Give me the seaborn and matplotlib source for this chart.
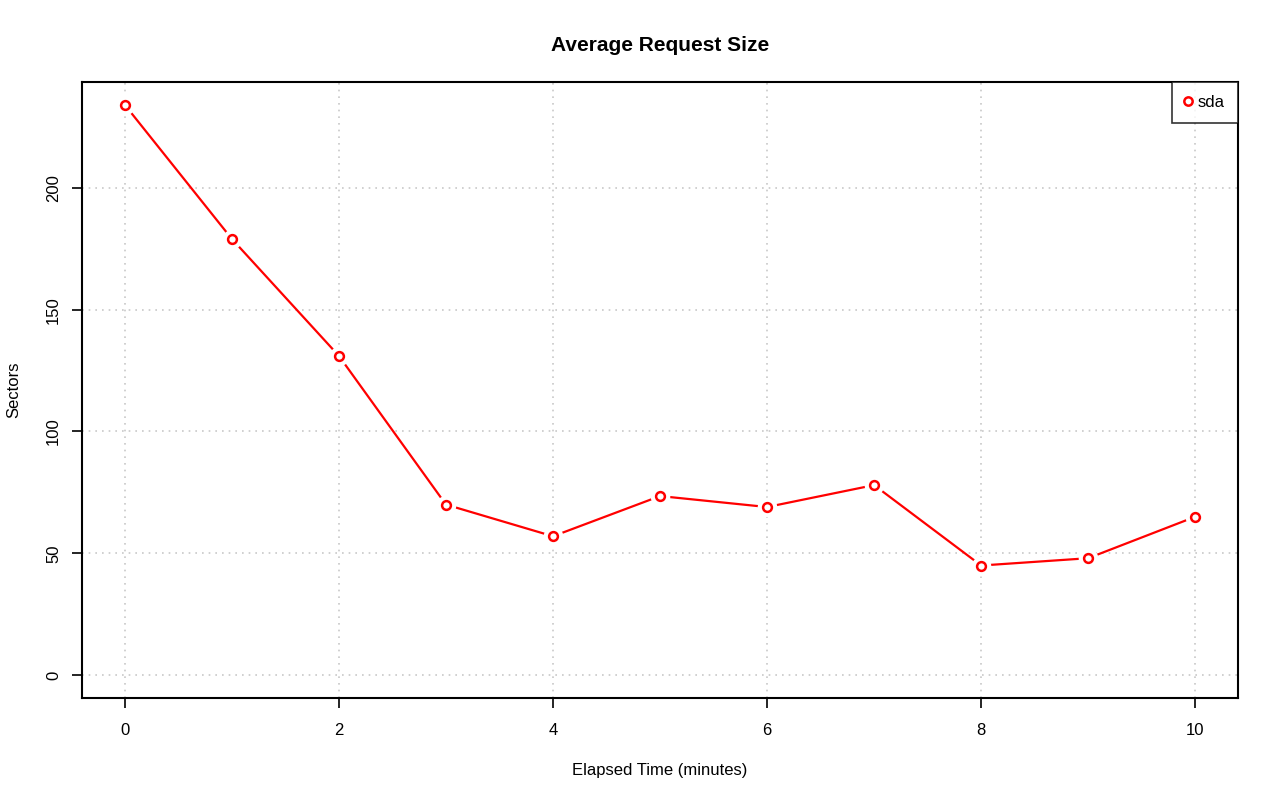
import seaborn as sns
import pandas as pd
import matplotlib.pyplot as plt
from matplotlib.lines import Line2D

minutes = [0, 1, 2, 3, 4, 5, 6, 7, 8, 9, 10]
sectors = [234, 179, 131, 70, 57, 73.5, 69, 78, 45, 48, 65]
device = "sda"

df = pd.DataFrame({"minutes": minutes, "sectors": sectors})

sns.set_style("white")
plt.rcParams['font.family'] = ['Liberation Sans', 'DejaVu Sans']
plt.rcParams.update({"text.color": "black", "axes.labelcolor": "black",
                     "xtick.color": "black", "ytick.color": "black"})

fig = plt.figure(figsize=(12.8, 8.01), dpi=100)
ax = fig.add_axes([0.0641, 0.1286, 0.9031, 0.769])

sns.lineplot(x="minutes", y="sectors", data=df, color="red", linewidth=1.6, ax=ax, zorder=2)
# white halo so the line breaks around each point, like R type="b"
sns.scatterplot(x="minutes", y="sectors", data=df, color="white", s=200, linewidth=0, ax=ax, zorder=3)
sns.scatterplot(x="minutes", y="sectors", data=df, facecolor="white", edgecolor="red", s=40,
                linewidth=1.8, ax=ax, zorder=4)

ax.set_xlim(-0.4, 10.4)
ax.set_ylim(-9.36, 243.4)
ax.set_xticks([0, 2, 4, 6, 8, 10])
ax.set_yticks([0, 50, 100, 150, 200])
ax.grid(True, color="#c8c8c8", linestyle=(0, (1, 3)), linewidth=1.2)
ax.set_axisbelow(True)
for s in ax.spines.values():
    s.set_color("black")
    s.set_linewidth(1.5)
ax.tick_params(axis="both", direction="out", length=7, width=1.2, color="black",
               labelsize=12, left=True, bottom=True)
ax.tick_params(axis="x", pad=11)
ax.tick_params(axis="y", pad=8)
for lab in ax.get_yticklabels():
    lab.set_rotation(90)
    lab.set_va("center")

ax.set_xlabel("Elapsed Time (minutes)", fontsize=12, labelpad=18)
ax.set_ylabel("Sectors", fontsize=12, labelpad=18)
ax.set_title("Average Request Size", fontsize=15, fontweight="bold", pad=22)

handle = Line2D([], [], marker="o", color="red", linestyle="none", markerfacecolor="white",
                markersize=6, markeredgewidth=1.8)
leg = ax.legend([handle], [device], loc="upper right", fontsize=12, frameon=True, fancybox=False,
                borderaxespad=0, handletextpad=0.45, handlelength=0.36, borderpad=0.78)
leg.get_frame().set_edgecolor("black")
leg.get_frame().set_linewidth(1.2)

plt.savefig("out.png", dpi=100)
